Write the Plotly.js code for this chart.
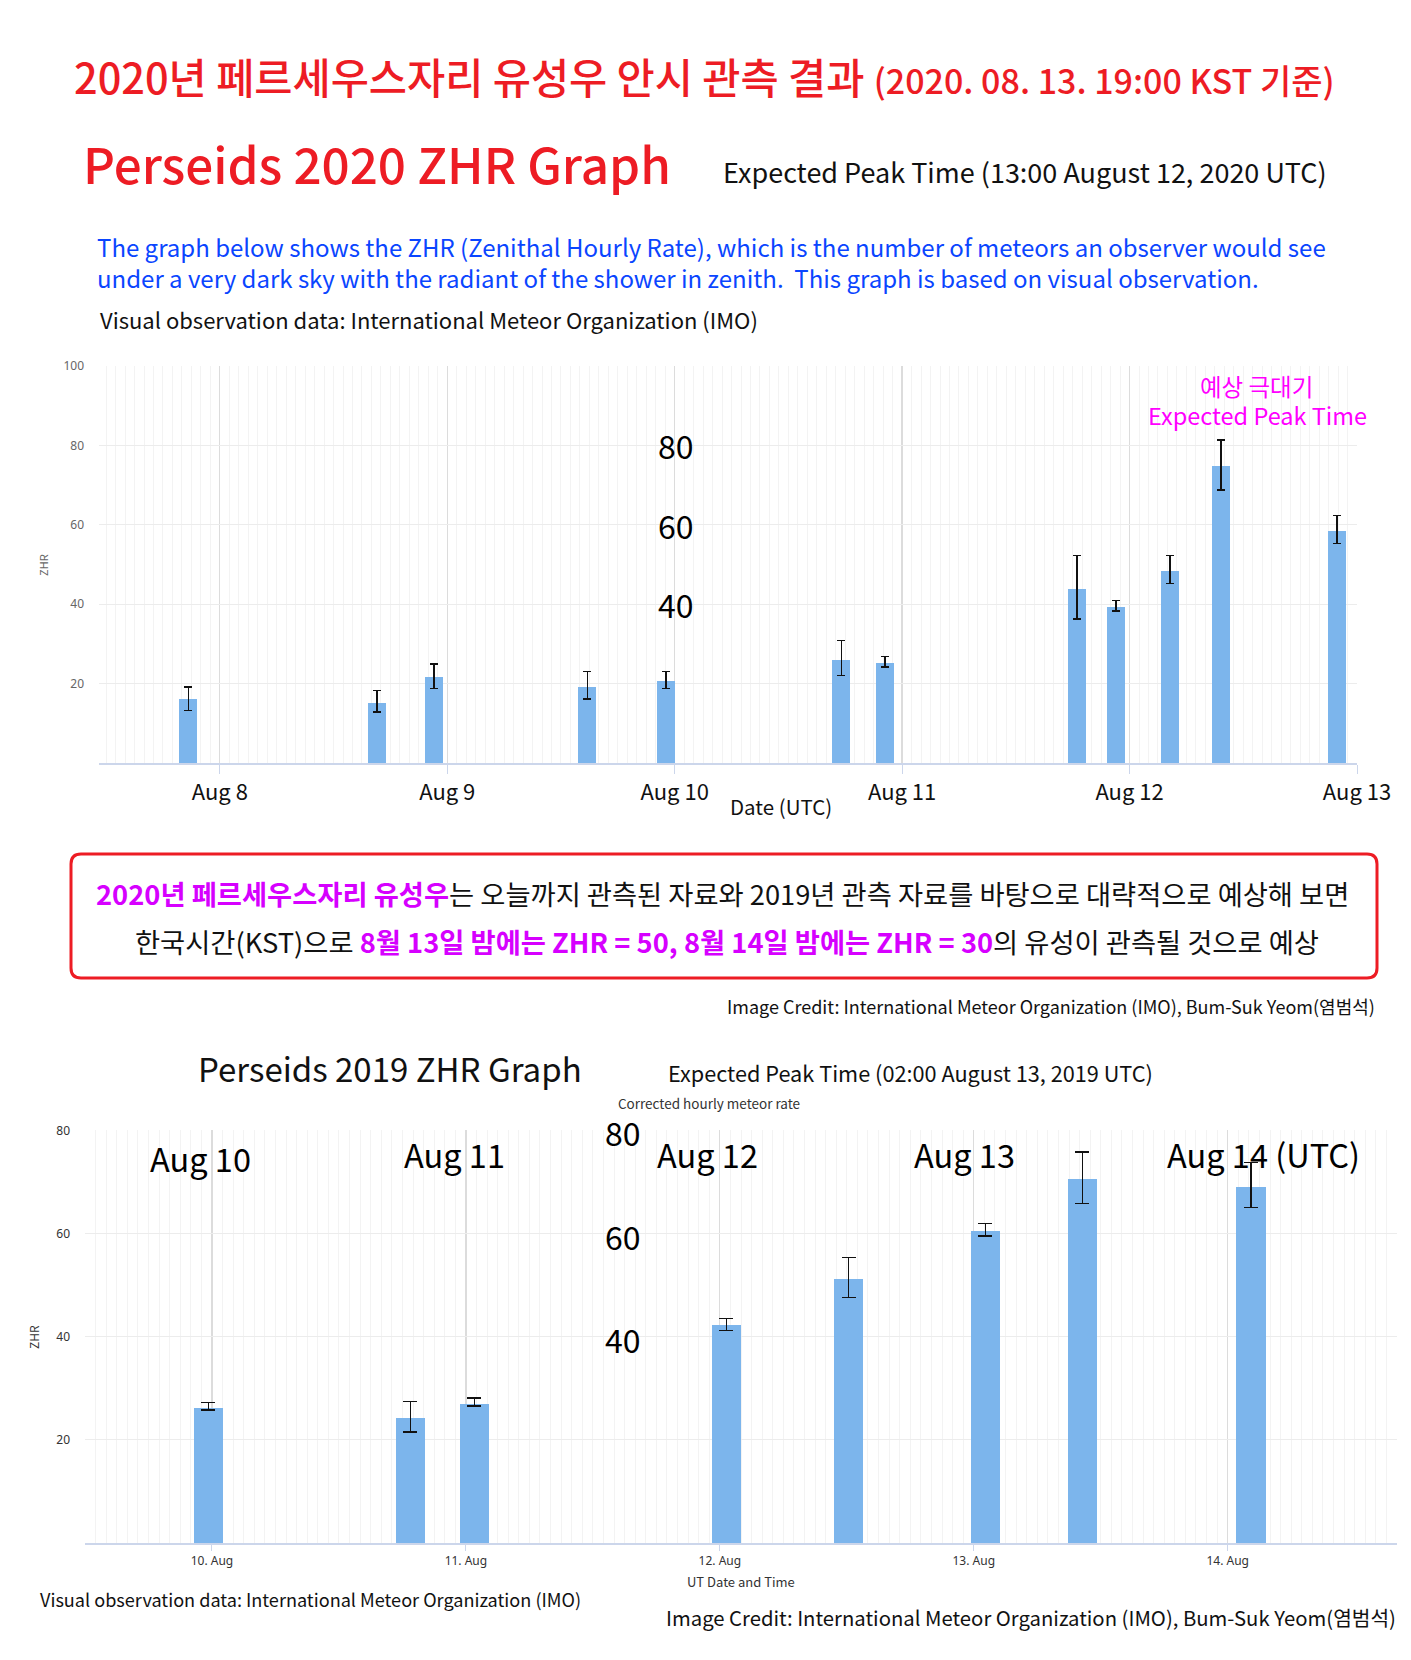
<!DOCTYPE html>
<html>
<head>
<meta charset="utf-8">
<script src="https://cdn.plot.ly/plotly-3.0.1.min.js"></script>
<style>
html,body{margin:0;padding:0;background:#fff;}
#chart{width:1411px;height:1660px;}
</style>
</head>
<body>
<div id="chart"></div>
<script>
// ---------- DATA ----------
// Perseids 2020 (IMO visual data)
const times2020 = ['2020-08-07 20:40','2020-08-08 16:34','2020-08-08 22:36','2020-08-09 14:47','2020-08-09 23:04','2020-08-10 17:35','2020-08-10 22:12','2020-08-11 18:27','2020-08-11 22:34','2020-08-12 04:15','2020-08-12 09:39','2020-08-12 21:53'];
const zhr2020 = [16.0, 15.0, 21.7, 19.1, 20.6, 25.9, 25.2, 43.9, 39.3, 48.3, 74.9, 58.4];
const errPlus2020 = [3.1, 3.3, 3.2, 3.9, 2.4, 4.9, 1.6, 8.3, 1.6, 3.9, 6.5, 4.0];
const errMinus2020 = [2.7, 2.2, 3.0, 3.0, 1.9, 3.8, 1.0, 7.6, 1.0, 3.1, 6.1, 3.1];
const yTicks2020 = [20, 40, 60, 80, 100];

// Perseids 2019 (IMO visual data)
const times2019 = ['2019-08-09 23:40','2019-08-10 18:45','2019-08-11 00:48','2019-08-12 00:37','2019-08-12 12:11','2019-08-13 01:05','2019-08-13 10:16','2019-08-14 02:12'];
const zhr2019 = [26.2, 24.2, 27.0, 42.2, 51.1, 60.4, 70.5, 69.1];
const errPlus2019 = [1.0, 3.2, 1.1, 1.3, 4.3, 1.5, 5.3, 4.7];
const errMinus2019 = [0.4, 2.7, 0.4, 1.0, 3.5, 0.9, 4.7, 4.1];
const yTicks2019 = [20, 40, 60, 80];

// overlay value labels
const overlayVals2020 = [80, 60, 40];
const overlayVals2019 = [80, 60, 40];
const dayLabels2019 = ['Aug 10', 'Aug 11', 'Aug 12', 'Aug 13', 'Aug 14 (UTC)'];

// ---------- HELPERS ----------
const W = 1411, H = 1660;
const px = x => x / W;
const py = y => 1 - y / H;
const KR = '"Noto Sans CJK KR", "Noto Sans", sans-serif';
const RED = '#ed1c24';
const MAG = '#d600ff';

function ann(text, x, y, size, color, extra) {
  return Object.assign({
    text: text, xref: 'paper', yref: 'paper', x: px(x), y: py(y),
    xanchor: 'center', yanchor: 'middle', showarrow: false,
    font: {family: KR, size: size, color: color}
  }, extra || {});
}

function roundRect(x0, y0, x1, y1, r) {
  const rx = r / W, ry = r / H;
  const X0 = px(x0), X1 = px(x1), Yt = py(y0), Yb = py(y1);
  return `M ${X0 + rx},${Yt} L ${X1 - rx},${Yt} Q ${X1},${Yt} ${X1},${Yt - ry} ` +
         `L ${X1},${Yb + ry} Q ${X1},${Yb} ${X1 - rx},${Yb} ` +
         `L ${X0 + rx},${Yb} Q ${X0},${Yb} ${X0},${Yb + ry} ` +
         `L ${X0},${Yt - ry} Q ${X0},${Yt} ${X0 + rx},${Yt} Z`;
}

// ---------- TRACES ----------
const bar2020 = {
  type: 'bar', x: times2020, y: zhr2020, xaxis: 'x', yaxis: 'y',
  width: 6.8e6,
  marker: {color: '#7cb5ec', line: {width: 0}},
  error_y: {type: 'data', symmetric: false, array: errPlus2020, arrayminus: errMinus2020,
            color: '#111', thickness: 1.4, width: 4},
  hoverinfo: 'x+y', showlegend: false
};
const bar2019 = {
  type: 'bar', x: times2019, y: zhr2019, xaxis: 'x2', yaxis: 'y2',
  width: 1.0e7,
  marker: {color: '#7cb5ec', line: {width: 0}},
  error_y: {type: 'data', symmetric: false, array: errPlus2019, arrayminus: errMinus2019,
            color: '#111', thickness: 1.4, width: 7},
  hoverinfo: 'x+y', showlegend: false
};

// ---------- ANNOTATIONS ----------
const magSpan = t => '<span style="color:' + MAG + ';font-weight:bold">' + t + '</span>';
const annotations = [
  ann('2020년 페르세우스자리 유성우 안시 관측 결과 <span style="font-size:34px">(2020. 08. 13. 19:00 KST 기준)</span>', 704, 76, 41.5, RED, {font: {family: KR, size: 41.5, color: RED, weight: 500}}),
  ann('Perseids 2020 ZHR Graph', 377, 163, 49.4, RED, {font: {family: KR, size: 49.4, color: RED, weight: 500}}),
  ann('Expected Peak Time (13:00 August 12, 2020 UTC)', 1025, 171, 27, '#111'),
  ann('The graph below shows the ZHR (Zenithal Hourly Rate), which is the number of meteors an observer would see', 95, 247, 24, '#0a45ff', {xanchor: 'left'}),
  ann('under a very dark sky with the radiant of the shower in zenith.  This graph is based on visual observation.', 95, 277, 24, '#0a45ff', {xanchor: 'left'}),
  ann('Visual observation data: International Meteor Organization (IMO)', 98, 319, 22, '#111', {xanchor: 'left'}),
  ann('ZHR', 43, 565, 11, '#666', {textangle: -90}),
  ann('예상 극대기', 1256, 386, 23.5, '#ff00ff'),
  ann('Expected Peak Time', 1257, 415, 23.5, '#ff00ff'),
  ann('Date (UTC)', 781, 806, 20.5, '#111'),
  // box text
  ann(magSpan('2020년 페르세우스자리 유성우') + '는 오늘까지 관측된 자료와 2019년 관측 자료를 바탕으로 대략적으로 예상해 보면', 722, 893, 27.3, '#111'),
  ann('한국시간(KST)으로 ' + magSpan('8월 13일 밤에는 ZHR = 50, 8월 14일 밤에는 ZHR = 30') + '의 유성이 관측될 것으로 예상', 727, 941, 27.3, '#111'),
  ann('Image Credit: International Meteor Organization (IMO), Bum-Suk Yeom(염범석)', 1377, 1006, 18, '#111', {xanchor: 'right'}),
  // 2019 chart texts
  ann('Perseids 2019 ZHR Graph', 390, 1068, 33, '#111'),
  ann('Expected Peak Time (02:00 August 13, 2019 UTC)', 910, 1072, 21.7, '#111'),
  ann('Corrected hourly meteor rate', 709, 1103, 13.5, '#333'),
  ann('ZHR', 33, 1337, 12, '#333', {textangle: -90}),
  ann('UT Date and Time', 741, 1581, 13, '#333'),
  ann('Visual observation data: International Meteor Organization (IMO)', 38, 1599, 18.1, '#111', {xanchor: 'left'}),
  ann('Image Credit: International Meteor Organization (IMO), Bum-Suk Yeom(염범석)', 1398, 1617, 20.3, '#111', {xanchor: 'right'})
];
// value overlays, positioned through the y axes
overlayVals2020.forEach(v => annotations.push({
  text: String(v), xref: 'paper', yref: 'y', x: px(676), y: v, xanchor: 'center', yanchor: 'middle',
  showarrow: false, font: {family: KR, size: 32, color: '#000'}
}));
overlayVals2019.forEach(v => annotations.push({
  text: String(v), xref: 'paper', yref: 'y2', x: px(623), y: v, xanchor: 'center', yanchor: 'middle',
  showarrow: false, font: {family: KR, size: 32, color: '#000'}, yshift: -2
}));
const dayLabelX2019 = [200, 454, 707, 964, 1165];
dayLabels2019.forEach((t, i) => annotations.push(
  ann(t, dayLabelX2019[i], i === 0 ? 1157 : 1153, 32.5, '#000', i === 4 ? {xanchor: 'left'} : {})
));

// ---------- LAYOUT ----------
const gridMajor = '#dcdcdc';
const axisLine = '#ccd6eb';
const layout = {
  width: W, height: H,
  margin: {l: 0, r: 0, t: 0, b: 0},
  paper_bgcolor: '#fff', plot_bgcolor: '#fff',
  showlegend: false,
  bargap: 0,
  xaxis: {
    domain: [px(99), px(1357)], anchor: 'y', type: 'date',
    range: ['2020-08-07 11:15', '2020-08-13 00:00'],
    tick0: '2020-08-08', dtick: 86400000, tickformat: '%b %-d',
    ticks: 'outside', ticklen: 9, tickcolor: axisLine, tickwidth: 1,
    ticklabelstandoff: 0,
    tickfont: {family: KR, size: 22, color: '#111'},
    showgrid: true, gridcolor: gridMajor, gridwidth: 1.3,
    minor: {dtick: 3600000, showgrid: true, gridcolor: '#f3f3f3', gridwidth: 1, ticks: ''},
    showline: true, linecolor: axisLine, linewidth: 2, zeroline: false, fixedrange: true
  },
  yaxis: {
    domain: [py(763), py(366)], anchor: 'x',
    range: [0, 100], tickvals: yTicks2020,
    tickfont: {family: '"Noto Sans", sans-serif', size: 12, color: '#666'},
    ticklabelstandoff: 14,
    showgrid: true, gridcolor: '#ececec', gridwidth: 1,
    zeroline: false, showline: false, fixedrange: true
  },
  xaxis2: {
    domain: [px(85), px(1397)], anchor: 'y2', type: 'date',
    range: ['2019-08-09 12:00', '2019-08-14 16:00'],
    tick0: '2019-08-10', dtick: 86400000, tickformat: '%-d. %b',
    ticks: 'outside', ticklen: 6, tickcolor: axisLine, tickwidth: 1,
    tickfont: {family: '"Noto Sans", sans-serif', size: 12, color: '#333'},
    showgrid: true, gridcolor: gridMajor, gridwidth: 1.3,
    minor: {dtick: 3600000, showgrid: true, gridcolor: '#f3f3f3', gridwidth: 1, ticks: ''},
    showline: true, linecolor: axisLine, linewidth: 2, zeroline: false, fixedrange: true
  },
  yaxis2: {
    domain: [py(1543), py(1130.4)], anchor: 'x2',
    range: [0, 80], tickvals: yTicks2019,
    tickfont: {family: '"Noto Sans", sans-serif', size: 12, color: '#333'},
    ticklabelstandoff: 14,
    showgrid: true, gridcolor: '#ececec', gridwidth: 1,
    zeroline: false, showline: false, fixedrange: true
  },
  shapes: [
    {type: 'path', xref: 'paper', yref: 'paper', path: roundRect(71, 854, 1377, 978, 10),
     line: {color: RED, width: 3}, fillcolor: 'rgba(0,0,0,0)'}
  ],
  annotations: annotations
};

Plotly.newPlot('chart', [bar2020, bar2019], layout, {displayModeBar: false, staticPlot: true});
</script>
</body>
</html>
